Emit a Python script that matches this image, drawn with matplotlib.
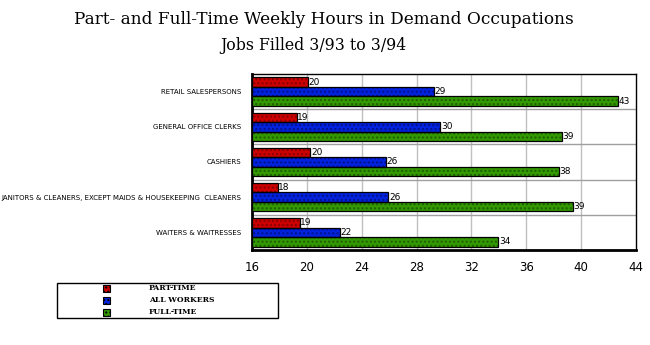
import numpy as np
import matplotlib
matplotlib.use("Agg")
import matplotlib.pyplot as plt
from matplotlib.patches import Rectangle

occupations = [
    "RETAIL SALESPERSONS",
    "GENERAL OFFICE CLERKS",
    "CASHIERS",
    "JANITORS & CLEANERS, EXCEPT MAIDS & HOUSEKEEPING  CLEANERS",
    "WAITERS & WAITRESSES",
]
part_time = [20.06, 19.26, 20.25, 17.87, 19.48]
all_workers = [29.25, 29.74, 25.77, 25.94, 22.39]
full_time = [42.67, 38.59, 38.37, 39.39, 33.97]
series_names = ["PART-TIME", "ALL WORKERS", "FULL-TIME"]
x_ticks = [16, 20, 24, 28, 32, 36, 40, 44]

colors = ["#cc0000", "#0022dd", "#339900"]
dots = ["#880000", "#001188", "#1f5c00"]

fig = plt.figure(figsize=(6.5, 3.45), dpi=100)
ax = fig.add_axes([0.3877, 0.2754, 0.5908, 0.5101])

y = np.arange(len(occupations))
h = 0.27
offsets = [-0.27, 0.0, 0.27]
base = 16
for vals, off, c, d in zip([part_time, all_workers, full_time], offsets, colors, dots):
    widths = [v - base for v in vals]
    ax.barh(y + 0.5 + off, widths, left=base, height=h, color=c,
            edgecolor=d, hatch="....", linewidth=0, zorder=3)
    ax.barh(y + 0.5 + off, widths, left=base, height=h, fill=False,
            edgecolor="black", linewidth=0.9, zorder=4)
    for yi, v in zip(y, vals):
        ax.text(v + 0.05, yi + 0.5 + off, f"{round(v)}", va="center", ha="left",
                fontsize=6.5, family="DejaVu Sans Condensed", zorder=5)

ax.set_xlim(16, 44)
ax.set_ylim(5, 0)
ax.set_xticks(x_ticks)
ax.set_xticklabels([str(t) for t in x_ticks], fontsize=8.5)
ax.tick_params(axis="x", length=0, pad=8)
ax.set_yticks(y + 0.5)
ax.set_yticklabels(occupations, fontsize=5.0, family="DejaVu Sans Condensed")
ax.tick_params(axis="y", length=0, pad=8)

for xv in x_ticks[1:-1]:
    ax.axvline(xv, color="#c0c0c0", linewidth=1, zorder=1)
for yv in range(1, 5):
    ax.axhline(yv, color="#a0a0a0", linewidth=1, zorder=1)

ax.spines["left"].set_linewidth(2)
ax.spines["bottom"].set_linewidth(2)
ax.spines["top"].set_linewidth(1)
ax.spines["right"].set_linewidth(1)

fig.text(324 / 650, 1 - 20 / 345, "Part- and Full-Time Weekly Hours in Demand Occupations",
         ha="center", va="center", fontsize=12.2, family="DejaVu Serif")
fig.text(313 / 650, 1 - 45 / 345, "Jobs Filled 3/93 to 3/94",
         ha="center", va="center", fontsize=11.3, family="DejaVu Serif")

# legend drawn by hand to match the wide box of the original
fig.patches.append(Rectangle((57 / 650, 1 - 318 / 345), 221 / 650, 35 / 345,
                             transform=fig.transFigure, fill=False,
                             edgecolor="black", linewidth=1))
row_y = [288.5, 300.5, 312.5]
for name, c, d, ry in zip(series_names, colors, dots, row_y):
    fig.patches.append(Rectangle((103 / 650, 1 - (ry + 3.5) / 345), 7 / 650, 7 / 345,
                                 transform=fig.transFigure, facecolor=c,
                                 edgecolor="black", hatch="....", linewidth=0.8))
    fig.text(149 / 650, 1 - ry / 345, name, ha="left", va="center",
             fontsize=5.5, weight="bold", family="DejaVu Serif")

fig.savefig("out.png", dpi=100)
